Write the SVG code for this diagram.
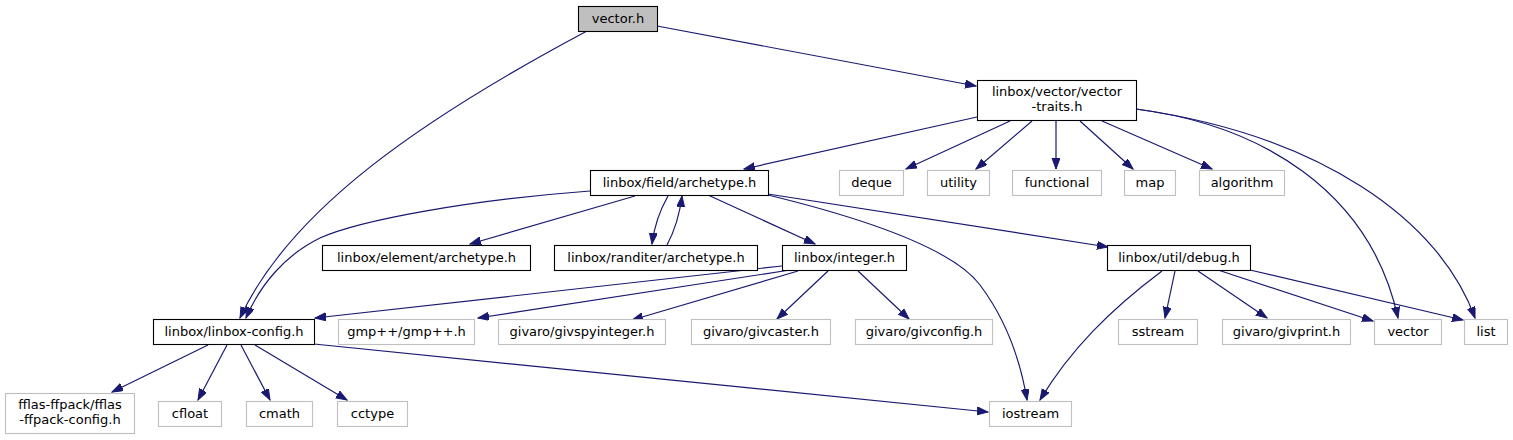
<svg xmlns="http://www.w3.org/2000/svg" width="1513" height="440" viewBox="0 0 1513 440">
<style>
.n rect{fill:#fff;stroke:#000;stroke-width:1.1}
.x rect{fill:#fff;stroke:#bfbfbf;stroke-width:1.1}
.r rect{fill:#bfbfbf;stroke:#000;stroke-width:1.1}
text{font-family:"DejaVu Sans","Liberation Sans",sans-serif;font-size:13px;fill:#000;text-anchor:middle}
.e path{fill:none;stroke:#191970;stroke-width:1.2;marker-end:url(#a)}
</style>
<defs>
<marker id="a" markerUnits="userSpaceOnUse" markerWidth="12" markerHeight="10" refX="11" refY="4" orient="auto">
<path d="M0,0 L11,4 L0,8 z" fill="#191970" stroke="#191970" stroke-width="1"/>
</marker>
</defs>
<rect width="1513" height="440" fill="#fff"/>
<g class="e" id="edges">
<path d="M587,31 C420,120 290,210 240,318"/>
<path d="M657,26 L976,86"/>
<path d="M977,117 L744,169"/>
<path d="M1010,121 L906,169"/>
<path d="M1032,121 L976,169"/>
<path d="M1056,121 L1056,169"/>
<path d="M1080,121 L1133,169"/>
<path d="M1102,121 L1212,169"/>
<path d="M1136,109 C1260,125 1370,190 1398,318"/>
<path d="M1136,109 C1320,135 1440,220 1475,318"/>
<path d="M590,191 C470,200 360,220 320,238 C285,255 260,285 246,318"/>
<path d="M635,196 L470,244"/>
<path d="M668,196 C660,210 654,228 652,244"/>
<path d="M667,245 C675,230 680,212 682,196"/>
<path d="M708,195 L815,244"/>
<path d="M768,195 C850,215 950,245 980,285 C1010,325 1022,370 1027,400"/>
<path d="M768,194 L1108,247"/>
<path d="M782,266 L315,318"/>
<path d="M790,270 L478,318"/>
<path d="M798,271 L632,320"/>
<path d="M828,271 L777,319"/>
<path d="M858,271 L909,319"/>
<path d="M1162,271 C1110,310 1070,350 1040,400"/>
<path d="M1175,271 L1165,318"/>
<path d="M1198,271 L1267,318"/>
<path d="M1218,270 L1373,321"/>
<path d="M1250,270 L1463,320"/>
<path d="M208,345 L112,392"/>
<path d="M227,345 L198,400"/>
<path d="M241,345 L270,400"/>
<path d="M255,345 L347,400"/>
<path d="M314,344 L988,412"/>
</g>
<g id="vector_h" class="r"><rect x="578.5" y="6.5" width="79" height="25"/><text x="618" y="23">vector.h</text></g>
<g id="vector_traits" class="n"><rect x="977.5" y="80.5" width="159" height="40"/><text x="1057" y="96">linbox/vector/vector</text><text x="1057" y="111">-traits.h</text></g>
<g id="field_archetype" class="n"><rect x="590.5" y="170.5" width="178" height="25"/><text x="679.5" y="187">linbox/field/archetype.h</text></g>
<g id="deque" class="x"><rect x="839.5" y="170.5" width="64" height="25"/><text x="871.5" y="187">deque</text></g>
<g id="utility" class="x"><rect x="927.5" y="170.5" width="62" height="25"/><text x="958.5" y="187">utility</text></g>
<g id="functional" class="x"><rect x="1012.5" y="170.5" width="89" height="25"/><text x="1057" y="187">functional</text></g>
<g id="map" class="x"><rect x="1124.5" y="170.5" width="51" height="25"/><text x="1150" y="187">map</text></g>
<g id="algorithm" class="x"><rect x="1199.5" y="170.5" width="85" height="25"/><text x="1242" y="187">algorithm</text></g>
<g id="element_archetype" class="n"><rect x="322.5" y="245.5" width="208" height="25"/><text x="426.5" y="262">linbox/element/archetype.h</text></g>
<g id="randiter_archetype" class="n"><rect x="554.5" y="245.5" width="203" height="25"/><text x="656" y="262">linbox/randiter/archetype.h</text></g>
<g id="integer_h" class="n"><rect x="782.5" y="245.5" width="124" height="25"/><text x="844.5" y="262">linbox/integer.h</text></g>
<g id="debug_h" class="n"><rect x="1107.5" y="245.5" width="143" height="25"/><text x="1179" y="262">linbox/util/debug.h</text></g>
<g id="linbox_config" class="n"><rect x="153.5" y="319.5" width="161" height="25"/><text x="234" y="336">linbox/linbox-config.h</text></g>
<g id="gmpxx" class="x"><rect x="338.5" y="319.5" width="136" height="25"/><text x="406.5" y="336">gmp++/gmp++.h</text></g>
<g id="givspyinteger" class="x"><rect x="498.5" y="319.5" width="167" height="25"/><text x="582" y="336">givaro/givspyinteger.h</text></g>
<g id="givcaster" class="x"><rect x="691.5" y="319.5" width="139" height="25"/><text x="761" y="336">givaro/givcaster.h</text></g>
<g id="givconfig" class="x"><rect x="855.5" y="319.5" width="137" height="25"/><text x="924" y="336">givaro/givconfig.h</text></g>
<g id="sstream" class="x"><rect x="1118.5" y="319.5" width="79" height="25"/><text x="1158" y="336">sstream</text></g>
<g id="givprint" class="x"><rect x="1222.5" y="319.5" width="128" height="25"/><text x="1286.5" y="336">givaro/givprint.h</text></g>
<g id="vector" class="x"><rect x="1374.5" y="319.5" width="67" height="25"/><text x="1408" y="336">vector</text></g>
<g id="list" class="x"><rect x="1464.5" y="319.5" width="43" height="25"/><text x="1486" y="336">list</text></g>
<g id="fflas" class="x"><rect x="5.5" y="393.5" width="129" height="40"/><text x="70" y="409">fflas-ffpack/fflas</text><text x="70" y="424">-ffpack-config.h</text></g>
<g id="cfloat" class="x"><rect x="158.5" y="401.5" width="63" height="25"/><text x="190" y="418">cfloat</text></g>
<g id="cmath" class="x"><rect x="246.5" y="401.5" width="66" height="25"/><text x="279.5" y="418">cmath</text></g>
<g id="cctype" class="x"><rect x="337.5" y="401.5" width="70" height="25"/><text x="372.5" y="418">cctype</text></g>
<g id="iostream" class="x"><rect x="989.5" y="401.5" width="82" height="25"/><text x="1030.5" y="418">iostream</text></g>
</svg>
